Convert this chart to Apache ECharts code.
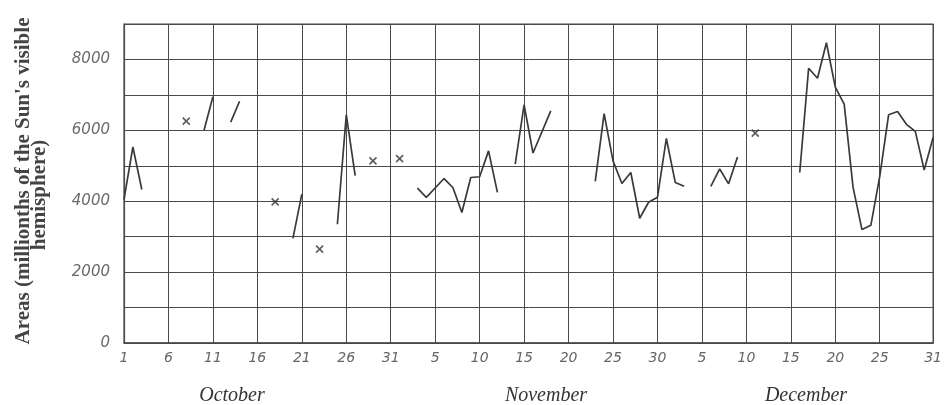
<!DOCTYPE html>
<html>
<head>
<meta charset="utf-8">
<script src="https://cdn.jsdelivr.net/npm/echarts@6/dist/echarts.min.js"></script>
<style>
html,body{margin:0;padding:0;background:#fff;}
#chart{width:945px;height:405px;}
</style>
</head>
<body>
<div id="chart"></div>
<script>
// Day index: 0 = October 1, 91 = December 31
const xTickDays   = [0, 5, 10, 15, 20, 25, 30, 35, 40, 45, 50, 55, 60, 65, 70, 75, 80, 85, 91];
const xTickLabels = ['1','6','11','16','21','26','31','5','10','15','20','25','30','5','10','15','20','25','31'];
const monthNames  = ['October', 'November', 'December'];
const yTickValues = [0, 2000, 4000, 6000, 8000];

// Connected daily observations (null = gap in the curve)
const lineDays = [
  0, 1, 2, null,
  9, 10, null,
  12, 13, null,
  19, 20, null,
  24, 25, 26, null,
  33, 34, 36, 37, 38, 39, 40, 41, 42, null,
  44, 45, 46, 48, null,
  53, 54, 55, 56, 57, 58, 59, 60, 61, 62, 63, null,
  66, 67, 68, 69, null,
  76, 77, 78, 79, 80, 81, 82, 83, 84, 85, 86, 87, 88, 89, 90, 91
];
const lineValues = [
  4050, 5530, 4330, null,
  6000, 6950, null,
  6230, 6820, null,
  2950, 4200, null,
  3350, 6440, 4720, null,
  4370, 4110, 4640, 4380, 3680, 4670, 4690, 5420, 4250, null,
  5050, 6720, 5360, 6550, null,
  4560, 6470, 5140, 4500, 4810, 3520, 3970, 4110, 5770, 4530, 4420, null,
  4420, 4910, 4490, 5250, null,
  4810, 7750, 7470, 8470, 7220, 6740, 4390, 3200, 3320, 4700, 6440, 6530, 6170, 5970, 4880, 5800
];

// Isolated observations (marked with crosses)
const crossDays   = [7, 17, 22, 28, 31, 71];
const crossValues = [6260, 3980, 2650, 5140, 5200, 5920];

const lineData = lineDays.map((d, i) => d === null ? ['-', '-'] : [d, lineValues[i]]);
const crossData = crossDays.map((d, i) => [d, crossValues[i]]);

const chart = echarts.init(document.getElementById('chart'), null, {renderer: 'canvas'});
const gridColor = '#4a4a4a';
chart.setOption({
  animation: false,
  backgroundColor: '#ffffff',
  grid: {left: 124, right: 5, top: 24, bottom: 62, show: true, borderColor: gridColor, borderWidth: 1.2},
  xAxis: {
    type: 'value', min: 0, max: 91,
    axisLine: {show: true, lineStyle: {color: gridColor, width: 1.5}},
    axisTick: {show: false, customValues: xTickDays},
    splitLine: {show: true, lineStyle: {color: gridColor, width: 1}},
    axisLabel: {
      customValues: xTickDays,
      formatter: v => { const i = xTickDays.indexOf(v); return i >= 0 ? xTickLabels[i] : ''; },
      fontFamily: 'DejaVu Sans', fontStyle: 'italic', fontSize: 14, color: '#666', margin: 8
    }
  },
  yAxis: {
    type: 'value', min: 0, max: 9000, interval: 1000,
    axisLine: {show: true, lineStyle: {color: gridColor, width: 1.2}},
    axisTick: {show: false},
    splitLine: {show: true, lineStyle: {color: gridColor, width: 1}},
    axisLabel: {
      formatter: v => yTickValues.indexOf(v) >= 0 ? String(v) : '',
      fontFamily: 'DejaVu Sans', fontStyle: 'italic', fontSize: 15, color: '#6a6a6a', margin: 14
    }
  },
  series: [
    {
      type: 'line', data: lineData, connectNulls: false, symbol: 'none',
      lineStyle: {color: '#3a3a3a', width: 1.7}
    },
    {
      type: 'scatter', data: crossData,
      symbol: 'path://M0,0L10,10M10,0L0,10', symbolSize: 7,
      itemStyle: {color: 'rgba(0,0,0,0)', borderColor: '#333', borderWidth: 1.6}
    }
  ],
  graphic: [
    {type: 'text', x: 24, y: 181, rotation: Math.PI / 2,
     style: {text: "Areas (millionths of the Sun's visible", font: 'bold 21px "Liberation Serif"', fill: '#444', align: 'center', verticalAlign: 'middle'}},
    {type: 'text', x: 40, y: 195, rotation: Math.PI / 2,
     style: {text: 'hemisphere)', font: 'bold 21px "Liberation Serif"', fill: '#444', align: 'center', verticalAlign: 'middle'}},
    {type: 'text', x: 232, y: 396,
     style: {text: monthNames[0], font: 'italic 20px "Liberation Serif"', fill: '#333', align: 'center', verticalAlign: 'middle'}},
    {type: 'text', x: 546, y: 396,
     style: {text: monthNames[1], font: 'italic 20px "Liberation Serif"', fill: '#333', align: 'center', verticalAlign: 'middle'}},
    {type: 'text', x: 806, y: 396,
     style: {text: monthNames[2], font: 'italic 20px "Liberation Serif"', fill: '#333', align: 'center', verticalAlign: 'middle'}}
  ]
});
</script>
</body>
</html>
